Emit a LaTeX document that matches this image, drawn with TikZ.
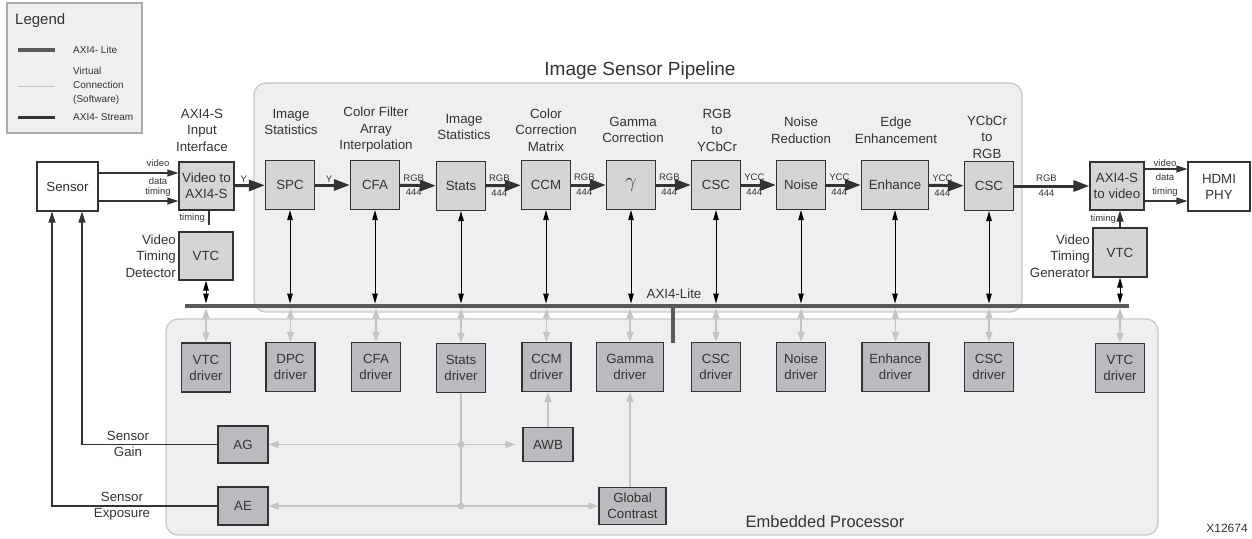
\documentclass[tikz,border=0pt]{standalone}
\usepackage{fontspec}
\setmainfont{Liberation Sans}
\usepackage{xcolor}
\usepackage{tikz}
\usetikzlibrary{arrows.meta,positioning,calc}

\definecolor{ink}{HTML}{333333}
\definecolor{blkfill}{HTML}{D5D5D7}
\definecolor{drvfill}{HTML}{BBBBBF}
\definecolor{panelfill}{HTML}{EFEFF1}
\definecolor{panelline}{HTML}{C8C8C8}
\definecolor{busgray}{HTML}{5A5A5A}
\definecolor{softgray}{HTML}{C4C4C4}

\begin{document}
\begin{tikzpicture}[
    x=1pt, y=-1pt,
    % The boxes
    panel/.style={
        draw=panelline, fill=panelfill, line width=1.3pt,
        rounded corners=12pt, inner sep=0pt},
    block/.style={
        draw=ink, fill=blkfill, line width=1.2pt,
        minimum width=49pt, minimum height=49pt, inner sep=1pt,
        align=center, text=ink, font=\fontsize{13.3}{16}\selectfont},
    driver/.style={block, fill=drvfill},
    plainblock/.style={block, fill=white},
    % The texts
    lbl/.style={align=center, text=ink, inner sep=0pt,
        font=\fontsize{13.3}{16.5}\selectfont},
    tiny/.style={text=ink, inner sep=1.5pt, font=\fontsize{9.5}{11}\selectfont},
    % The connectors
    stream/.style={draw=ink, line width=3pt,
        -{Triangle[length=16pt,width=11pt]}},
    wire/.style={draw=ink, line width=1.2pt,
        -{Triangle[length=11pt,width=7pt]}},
    ctl/.style={draw=black, line width=1pt,
        {Triangle[length=10pt,width=5.5pt]}-{Triangle[length=10pt,width=5.5pt]}},
    soft/.style={draw=softgray, line width=1.5pt},
    softarrow/.style={soft, -{Triangle[length=10pt,width=7pt]}},
    softctl/.style={soft,
        {Triangle[length=10pt,width=7pt]}-{Triangle[length=10pt,width=7pt]}},
  ]
  \useasboundingbox (0,0) rectangle (1252,538);

  % panels
  \node (pipe) [panel, minimum width=768pt, minimum height=229pt] at (638,197.5) {};
  \node (emb) [panel, minimum width=992pt, minimum height=216pt] at (662,427) {};
  \node (pipetitle) [lbl, font=\fontsize{19}{23}\selectfont] at (640,71) {Image Sensor Pipeline};
  \node (embtitle) [lbl, font=\fontsize{16.5}{20}\selectfont] at (825,522) {Embedded Processor};

  % legend
  \node (legend) [draw=black!33, fill=black!6, line width=1.5pt,
      minimum width=135pt, minimum height=130pt] at (74.5,68) {};
  \node (legendtitle) [lbl, anchor=west, font=\fontsize{15}{18}\selectfont] at (15,21) {Legend};
  \draw [busgray, line width=4pt] (18,50) -- (55,50);
  \draw [softgray, line width=1pt] (18,86) -- (55,86);
  \draw [ink, line width=3pt] (18,117) -- (55,117);
  \node (keylite) [lbl, anchor=west, font=\fontsize{10}{14}\selectfont, align=left] at (73,50) {AXI4- Lite};
  \node (keyvirt) [lbl, anchor=west, font=\fontsize{10}{14}\selectfont, align=left] at (73,86) {Virtual\\Connection\\(Software)};
  \node (keystream) [lbl, anchor=west, font=\fontsize{10}{14}\selectfont, align=left] at (73,117) {AXI4- Stream};

  % video path
  \node (sensor) [plainblock, minimum width=61pt] at (67.5,186.5) {Sensor};
  \node (vid2axi) [block, minimum width=55pt, minimum height=48pt] at (206.5,186) {Video to\\AXI4-S};
  \node (spc) [block] at (290,185) {SPC};
  \node (cfa) [block] at (375,185) {CFA};
  \node (stats) [block] at (461,186) {Stats};
  \node (ccm) [block] at (546,185) {CCM};
  \node (gam) [block] at (631,185) {\fontsize{20}{20}\selectfont$\gamma$};
  \node (csca) [block] at (716,185) {CSC};
  \node (noise) [block] at (801,185) {Noise};
  \node (enh) [block, minimum width=67pt] at (895,185) {Enhance};
  \node (cscb) [block] at (989,186) {CSC};
  \node (axi2vid) [block, minimum width=54pt, minimum height=48pt] at (1117,186) {AXI4-S\\to video};
  \node (hdmi) [plainblock, minimum width=62pt] at (1219,186.5) {HDMI\\PHY};
  \node (vtcin) [block, minimum width=54pt, minimum height=48pt] at (206,256) {VTC};
  \node (vtcout) [block, minimum width=54pt] at (1120,252.5) {VTC};

  % labels over the blocks
  \node (inlbl) [lbl] at (202,130) {AXI4-S\\Input\\Interface};
  \node (spclbl) [lbl] at (291,122) {Image\\Statistics};
  \node (cfalbl) [lbl] at (376,130) {Color Filter\\Array\\Interpolation};
  \node (statslbl) [lbl] at (464,127) {Image\\Statistics};
  \node (ccmlbl) [lbl] at (546,130) {Color\\Correction\\Matrix};
  \node (gamlbl) [lbl] at (633,130) {Gamma\\Correction};
  \node (cscalbl) [lbl] at (717,130) {RGB\\to\\YCbCr};
  \node (noiselbl) [lbl] at (801,130) {Noise\\Reduction};
  \node (enhlbl) [lbl] at (896,130) {Edge\\Enhancement};
  \node (cscblbl) [lbl] at (987,137) {YCbCr\\to\\RGB};
  \node (vtdlbl) [lbl, anchor=east, align=right] at (176,256) {Video\\Timing\\Detector};
  \node (vtglbl) [lbl, anchor=east, align=right] at (1090,256) {Video\\Timing\\Generator};

  \draw [wire] ([yshift=13.5pt]sensor.east) -- ([yshift=13.5pt]sensor.east -| vid2axi.west);
  \draw [wire] ([yshift=-14.5pt]sensor.east) -- ([yshift=-14.5pt]sensor.east -| vid2axi.west);
  \node (lblvid) [tiny] at (158,163) {video};
  \node (lbldata) [tiny] at (158,181) {data};
  \node (lbltmg) [tiny] at (158,192) {timing};

  \draw [stream] (vid2axi) -- (spc) node [tiny, pos=0.3, above] {Y};
  \draw [stream] (spc) -- (cfa) node [tiny, pos=0.4, above] {Y};
  \foreach \a/\b/\t in {cfa/stats/RGB, stats/ccm/RGB, ccm/gam/RGB, gam/csca/RGB,
      csca/noise/YCC, noise/enh/YCC, enh/cscb/YCC}
    \draw [stream] (\a) -- (\b) node [tiny, pos=0.38, above=1pt] {\t}
                               node [tiny, pos=0.38, below=1pt] {444};
  \draw [stream] (cscb) -- (axi2vid) node [tiny, pos=0.43, above=1pt] {RGB}
                                     node [tiny, pos=0.43, below=1pt] {444};

  \draw [wire] ([yshift=17pt]axi2vid.east) -- ([yshift=17pt]axi2vid.east -| hdmi.west);
  \draw [wire] ([yshift=-15pt]axi2vid.east) -- ([yshift=-15pt]axi2vid.east -| hdmi.west);
  \node (lblvid2) [tiny] at (1165,163) {video};
  \node (lbldata2) [tiny] at (1165,177) {data};
  \node (lbltmg2) [tiny] at (1165,192) {timing};

  \coordinate (tmgend) at (209,225);
  \draw [ink, line width=1.2pt] (vid2axi.south -| tmgend) -- (tmgend)
      node [tiny, pos=0.55, left=2pt] {timing};
  \draw [wire] (vtcout.north) -- (vtcout.north |- axi2vid.south)
      node [tiny, pos=0.5, left=2pt] {timing};

  % AXI4-Lite bus
  \node (bus) [fill=busgray, inner sep=0pt, minimum width=944pt, minimum height=4.5pt] at (657,306) {};
  \node (buslbl) [lbl] at (674,294) {AXI4-Lite};
  \coordinate (stub) at (673,343);
  \draw [busgray, line width=4.5pt] (stub |- bus) -- (stub);

  \foreach \n in {vtcin,spc,cfa,stats,ccm,gam,csca,noise,enh,cscb,vtcout}
    \draw [ctl] (\n.south) -- (\n.south |- bus.north);

  % drivers
  \node (dvtca) [driver] at (206,367.5) {VTC\\driver};
  \node (ddpc) [driver] at (290.5,367) {DPC\\driver};
  \node (dcfa) [driver] at (376,367) {CFA\\driver};
  \node (dstats) [driver] at (461,368) {Stats\\driver};
  \node (dccm) [driver] at (546.5,367) {CCM\\driver};
  \node (dgam) [driver, minimum width=67pt] at (630,367) {Gamma\\driver};
  \node (dcsca) [driver] at (716,367) {CSC\\driver};
  \node (dnoise) [driver] at (801,367) {Noise\\driver};
  \node (denh) [driver, minimum width=67pt] at (895.5,367) {Enhance\\driver};
  \node (dcscb) [driver] at (989,367) {CSC\\driver};
  \node (dvtcb) [driver] at (1120,368) {VTC\\driver};

  \foreach \n in {dvtca,ddpc,dcfa,dstats,dccm,dgam,dcsca,dnoise,denh,dcscb,dvtcb}
    \draw [softctl] (\n.north |- bus.south) -- (\n.north);

  % software
  \node (ag) [driver, minimum width=50pt, minimum height=37pt] at (243,444.5) {AG};
  \node (ae) [driver, minimum width=50pt, minimum height=38pt] at (243,506) {AE};
  \node (awb) [driver, minimum width=50pt, minimum height=34pt] at (548,444.5) {AWB};
  \node (gc) [driver, minimum width=67pt, minimum height=37pt] at (632.5,506) {Global\\Contrast};

  \coordinate (j1) at (dstats.south |- ag.east);
  \coordinate (j2) at (dstats.south |- ae.east);
  \draw [soft] (dstats.south) -- (j2);
  \draw [softarrow] (j1) -- (ag.east);
  \draw [softarrow, shorten >=7pt] (j1) -- (awb.west);
  \draw [softarrow] (j2) -- (ae.east);
  \draw [softarrow] (j2) -- (gc.west);
  \draw [softarrow] (awb.north) -- (awb.north |- dccm.south);
  \draw [softarrow] (gc.north -| dgam.south) -- (dgam.south);
  \fill [softgray] (j1) circle (3.5pt) (j2) circle (3.5pt);

  \draw [wire] (ag.west) -| ([xshift=14.5pt]sensor.south);
  \draw [wire] (ae.west) -| ([xshift=-15.5pt]sensor.south);
  \node (gainlbl) [lbl] at (128,444) {Sensor\\Gain};
  \node (explbl) [lbl] at (122,506) {Sensor\\Exposure};

  \node (figid) [lbl, font=\fontsize{12}{14}\selectfont] at (1227,528) {X12674};
\end{tikzpicture}
\end{document}
